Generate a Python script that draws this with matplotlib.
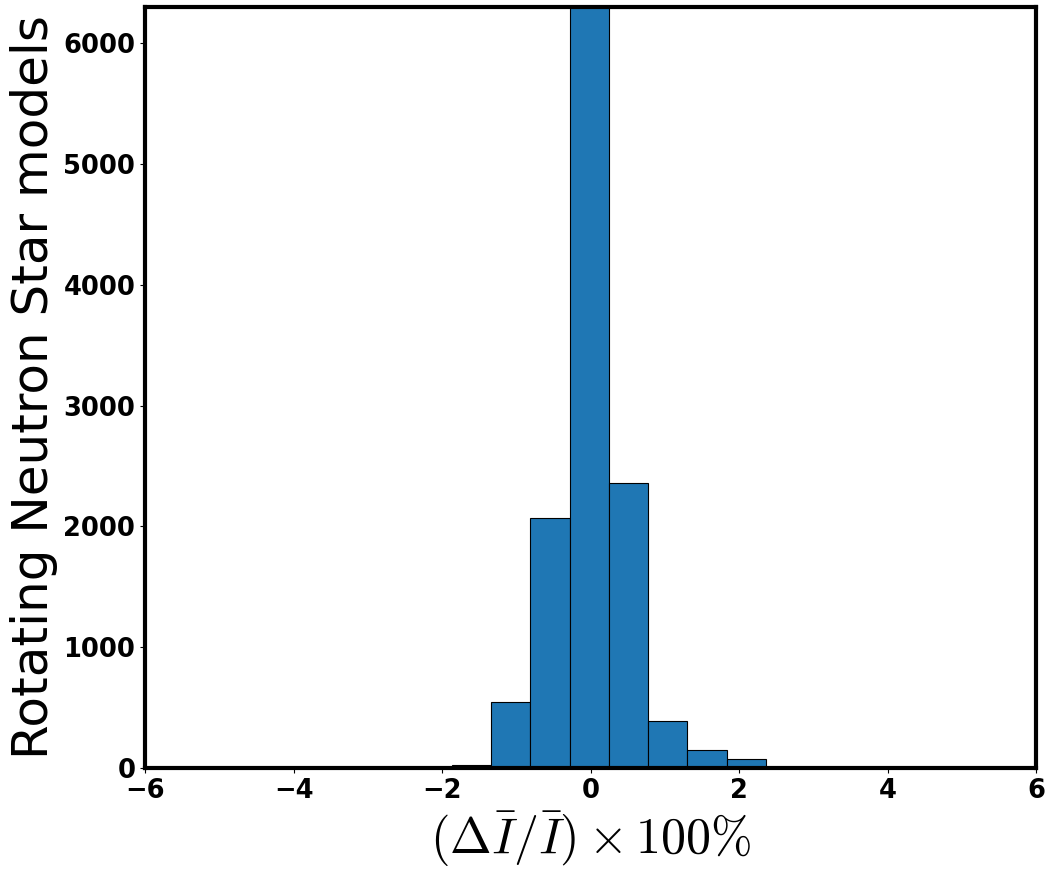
import matplotlib
matplotlib.use("Agg")
import matplotlib.pyplot as plt
import numpy as np

# Histogram bin edges (in percent) and counts
bin_edges = [-1.870, -1.341, -0.812, -0.283, 0.246, 0.775, 1.304, 1.833, 2.362]
counts = [27, 548, 2067, 7000, 2357, 391, 145, 76]
x_ticks = [-6, -4, -2, 0, 2, 4, 6]
y_ticks = [0, 1000, 2000, 3000, 4000, 5000, 6000]

plt.rcParams['mathtext.fontset'] = 'cm'

fig = plt.figure(figsize=(10.53, 8.73), dpi=100)
ax = fig.add_axes([0.1377, 0.1203, 0.8462, 0.8717])

centers = (np.array(bin_edges[:-1]) + np.array(bin_edges[1:])) / 2
ax.hist(centers, bins=bin_edges, weights=counts, color='#1f77b4',
        edgecolor='black', linewidth=0.8)

ax.set_xlim(-6, 6)
ax.set_ylim(0, 6300)
ax.set_xticks(x_ticks)
ax.set_yticks(y_ticks)
for lab in ax.get_xticklabels() + ax.get_yticklabels():
    lab.set_fontsize(18.5)
    lab.set_fontweight('bold')
for sp in ax.spines.values():
    sp.set_linewidth(3)

ax.set_xlabel(r'$(\Delta\bar{I}/\bar{I})\times 100\%$', fontsize=36)
ax.set_ylabel('Rotating Neutron Star models', fontsize=36)

fig.savefig('out.png', dpi=100)
